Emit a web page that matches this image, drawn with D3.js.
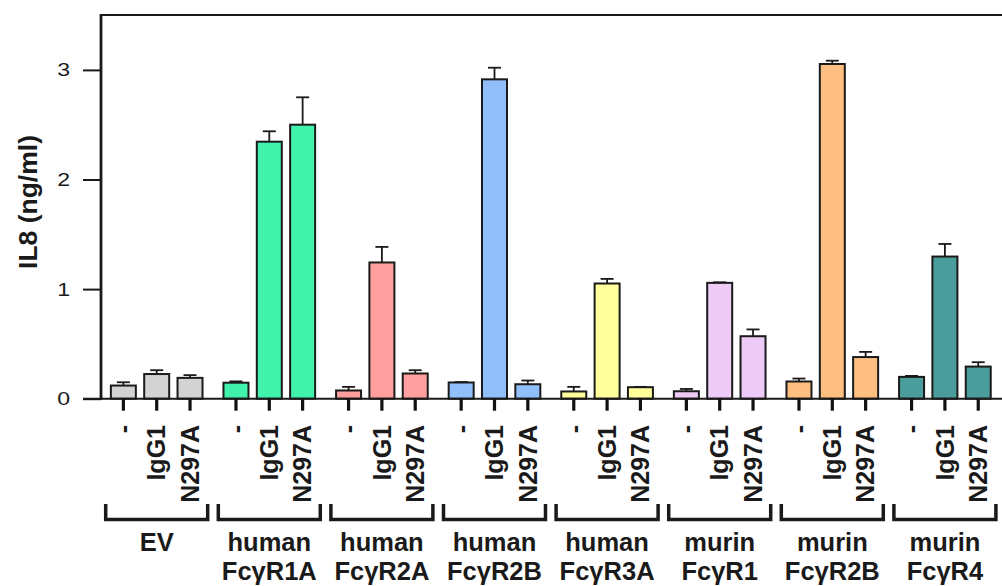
<!DOCTYPE html>
<html>
<head>
<meta charset="utf-8">
<script src="https://cdnjs.cloudflare.com/ajax/libs/d3/7.8.5/d3.min.js"></script>
<style>
  html, body { margin: 0; padding: 0; background: #fff; }
  svg { display: block; font-family: "Liberation Sans", Arial, sans-serif; }
</style>
</head>
<body>
<div id="chart"></div>
<script>
const groupLine1 = ['EV', 'human', 'human', 'human', 'human', 'murin', 'murin', 'murin']
const groupLine2 = ['', 'FcγR1A', 'FcγR2A', 'FcγR2B', 'FcγR3A', 'FcγR1', 'FcγR2B', 'FcγR4']
const treatments = ['-', 'IgG1', 'N297A']

// mean IL8 (ng/ml) per group, in treatment order
const means = [
  [0.12, 0.225, 0.19],
  [0.146, 2.345, 2.50],
  [0.075, 1.243, 0.23],
  [0.148, 2.914, 0.132],
  [0.066, 1.051, 0.105],
  [0.068, 1.057, 0.57],
  [0.157, 3.054, 0.38],
  [0.199, 1.297, 0.293]
]
// upper error (SD)
const errors = [
  [0.03, 0.035, 0.025],
  [0.012, 0.095, 0.25],
  [0.033, 0.142, 0.03],
  [0.004, 0.106, 0.034],
  [0.042, 0.042, 0.003],
  [0.021, 0.005, 0.062],
  [0.027, 0.03, 0.047],
  [0.009, 0.115, 0.04]
]
const colors = ['#d3d3d3', '#41f2ad', '#ff9f9f', '#91bff9', '#ffff9b', '#eecbf7', '#ffbf80', '#4a9d9b']
const yTicks = [0, 1, 2, 3]

const width = 1002, height = 586
const axisX = 101, baseY = 398.7, topY = 15.1

const groupIds = d3.range(groupLine1.length)
const data = []
groupIds.forEach(g => treatments.forEach((t, i) => {
  data.push({ g: g, t: t, v: means[g][i], e: errors[g][i] })
}))

const xGroup = d3.scaleBand()
  .domain(groupIds)
  .range([106.7, 994.9])
  .paddingInner(0.112)
  .paddingOuter(0)

const xInner = d3.scaleBand()
  .domain(treatments)
  .range([0, xGroup.bandwidth()])
  .paddingInner(0.25)
  .paddingOuter(0.125)

const xMid = d => xGroup(d.g) + xInner(d.t) + xInner.bandwidth() / 2

const y = d3.scaleLinear()
  .domain([0, 3.5])
  .range([baseY, topY])

const svg = d3.select('#chart').append('svg')
  .attr('width', width)
  .attr('height', height)

// top frame line
svg.append('line')
  .attr('x1', axisX).attr('x2', width)
  .attr('y1', topY).attr('y2', topY)
  .attr('stroke', '#1a1a1a').attr('stroke-width', 2)

// bars
svg.append('g').classed('bars', true)
  .selectAll('rect')
  .data(data).enter()
  .append('rect')
  .attr('x', d => xGroup(d.g) + xInner(d.t))
  .attr('y', d => y(d.v))
  .attr('width', xInner.bandwidth())
  .attr('height', d => baseY - y(d.v))
  .attr('fill', d => colors[d.g])
  .attr('stroke', '#1a1a1a')
  .attr('stroke-width', 2)

// error bars (upper only)
const cap = 6.5
const err = svg.append('g').classed('errors', true)
  .attr('stroke', '#1a1a1a').attr('stroke-width', 1.8)
err.selectAll('line.stem')
  .data(data).enter()
  .append('line').classed('stem', true)
  .attr('x1', xMid).attr('x2', xMid)
  .attr('y1', d => y(d.v))
  .attr('y2', d => y(d.v + d.e))
err.selectAll('line.cap')
  .data(data).enter()
  .append('line').classed('cap', true)
  .attr('x1', d => xMid(d) - cap)
  .attr('x2', d => xMid(d) + cap)
  .attr('y1', d => y(d.v + d.e))
  .attr('y2', d => y(d.v + d.e))

// y axis
const yAxis = d3.axisLeft(y)
  .tickValues(yTicks)
  .tickFormat(d3.format('d'))
  .tickSize(18)
const yg = svg.append('g').classed('y-axis', true)
  .attr('transform', 'translate(' + axisX + ', 0)')
  .call(yAxis)
yg.select('.domain').remove()
yg.selectAll('line').attr('stroke', '#1a1a1a').attr('stroke-width', 2)
yg.selectAll('text')
  .attr('x', 0)
  .attr('transform', 'translate(-31, 0) scale(1.25, 1)')
  .attr('font-size', 18.5)
  .attr('fill', '#1a1a1a')
  .style('font-family', '"Liberation Sans", Arial, sans-serif')

svg.append('line')
  .attr('x1', axisX).attr('x2', axisX)
  .attr('y1', topY - 1).attr('y2', baseY + 1)
  .attr('stroke', '#1a1a1a').attr('stroke-width', 2.8)

// baseline
svg.append('line')
  .attr('x1', 83).attr('x2', width)
  .attr('y1', baseY).attr('y2', baseY)
  .attr('stroke', '#1a1a1a').attr('stroke-width', 2)

svg.append('text')
  .attr('transform', 'translate(37, 202) rotate(-90)')
  .attr('text-anchor', 'middle')
  .attr('font-size', 26.5)
  .attr('font-weight', 'bold')
  .attr('fill', '#1a1a1a')
  .text('IL8 (ng/ml)')

// x ticks and rotated treatment labels
const xt = svg.append('g').classed('x-ticks', true)
xt.selectAll('line')
  .data(data).enter()
  .append('line')
  .attr('x1', xMid).attr('x2', xMid)
  .attr('y1', baseY)
  .attr('y2', baseY + 12)
  .attr('stroke', '#111').attr('stroke-width', 3.2)
xt.selectAll('text')
  .data(data).enter()
  .append('text')
  .attr('transform', d => 'translate(' + xMid(d) + ', 425) rotate(-90)')
  .attr('dy', '0.35em')
  .attr('text-anchor', 'end')
  .attr('font-size', 25)
  .attr('font-weight', 'bold')
  .attr('fill', '#1a1a1a')
  .text(d => d.t)

// group brackets and labels
const br = svg.append('g').classed('brackets', true)
br.selectAll('path')
  .data(groupIds).enter()
  .append('path')
  .attr('d', g => {
    const x0 = xGroup(g) - 1, x1 = xGroup(g) + xGroup.bandwidth() + 1
    return 'M' + x0 + ',504V519.5H' + x1 + 'V504'
  })
  .attr('fill', 'none')
  .attr('stroke', '#1a1a1a')
  .attr('stroke-width', 3.5)

const gl = br.selectAll('text')
  .data(groupIds).enter()
  .append('text')
  .attr('text-anchor', 'middle')
  .attr('font-size', 25.5)
  .attr('font-weight', 'bold')
  .attr('fill', '#1a1a1a')
gl.append('tspan')
  .attr('x', g => xGroup(g) + xGroup.bandwidth() / 2)
  .attr('y', 551)
  .text(g => groupLine1[g])
gl.append('tspan')
  .attr('x', g => xGroup(g) + xGroup.bandwidth() / 2)
  .attr('y', 579.5)
  .text(g => groupLine2[g])
</script>
</body>
</html>
